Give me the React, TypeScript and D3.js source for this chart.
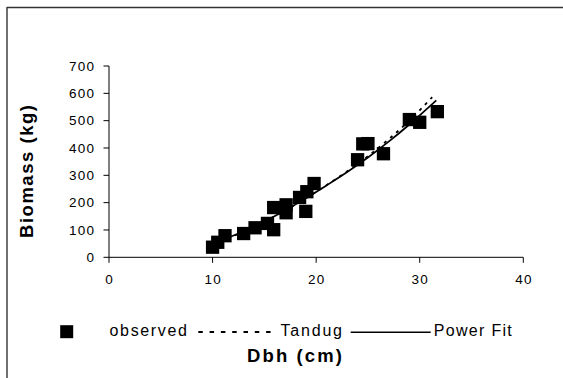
import React from "react";
import * as d3 from "d3";

const W = 563;
const H = 378;

// observed data (Dbh cm, Biomass kg)
const obsDbh = [10.0, 10.5, 11.2, 13.0, 14.1, 15.3, 15.9, 15.9, 17.1, 17.1, 18.4, 19.0, 19.1, 19.8, 24.0, 24.5, 25.0, 26.5, 29.0, 30.0, 31.7];
const obsBiomass = [37, 55, 79, 87, 108, 124, 101, 182, 192, 163, 219, 168, 240, 270, 357, 415, 416, 379, 504, 494, 533];

// Power fit curve
const fitDbh = [10, 11, 13, 15, 17, 19, 21, 23, 25, 27, 29, 31.6];
const fitBiomass = [50, 64, 95, 131, 171, 216, 263, 312, 365, 423, 486, 574];

// Tandug curve
const tanDbh = [10, 11, 13, 15, 17, 19, 21, 23, 25, 27, 29, 31.2];
const tanBiomass = [48, 62, 94, 130, 171, 216, 264, 315, 370, 432, 500, 586];

const xTicks = [0, 10, 20, 30, 40];
const yTicks = [0, 100, 200, 300, 400, 500, 600, 700];

const legendLabels = ["observed", "Tandug", "Power Fit"];

const FONT = "'Liberation Sans', Arial, sans-serif";

export default function App() {
  const x = d3.scaleLinear().domain([0, 40]).range([109, 523.3]);
  const y = d3.scaleLinear().domain([0, 700]).range([257.3, 66]);

  const line = d3
    .line<[number, number]>()
    .x((d) => x(d[0]))
    .y((d) => y(d[1]))
    .curve(d3.curveMonotoneX);

  const fitPts = fitDbh.map((v, i) => [v, fitBiomass[i]] as [number, number]);
  const tanPts = tanDbh.map((v, i) => [v, tanBiomass[i]] as [number, number]);
  const sq = 13.3;

  return (
    <svg
      width={W}
      height={H}
      style={{ position: "absolute", left: 0, top: 0, background: "#fff" }}
      fontFamily={FONT}
    >
      <rect x={0} y={0} width={W} height={H} fill="#fff" />
      {/* chart frame */}
      <line x1={7} y1={7.5} x2={W + 5} y2={7.5} stroke="#333" strokeWidth={1.4} />
      <line x1={7} y1={7} x2={7} y2={H + 5} stroke="#333" strokeWidth={1.4} />

      {/* axes */}
      <line x1={x(0)} y1={y(0)} x2={x(40)} y2={y(0)} stroke="#000" strokeWidth={1} />
      <line x1={x(0)} y1={y(0)} x2={x(0)} y2={y(700)} stroke="#000" strokeWidth={1} />
      {yTicks.map((t) => (
        <g key={"y" + t}>
          <line x1={x(0) - 5.5} y1={y(t)} x2={x(0)} y2={y(t)} stroke="#000" strokeWidth={1} />
          <text
            x={94}
            y={y(t) + 4.8}
            fontSize={13.5}
            textAnchor="end"
            letterSpacing={t === 0 ? 0 : 1.2}
            dx={t === 0 ? 0 : 1.2}
            fill="#000"
          >
            {t}
          </text>
        </g>
      ))}
      {xTicks.map((t) => (
        <g key={"x" + t}>
          <line x1={x(t)} y1={y(0)} x2={x(t)} y2={y(0) + 5.5} stroke="#000" strokeWidth={1} />
          <text
            x={x(t)}
            y={284.3}
            fontSize={13.5}
            textAnchor="middle"
            letterSpacing={t === 0 ? 0 : 1.2}
            dx={t === 0 ? 0 : 0.6}
            fill="#000"
          >
            {t}
          </text>
        </g>
      ))}

      {/* observed markers */}
      {obsDbh.map((v, i) => (
        <rect
          key={"o" + i}
          x={x(v) - sq / 2}
          y={y(obsBiomass[i]) - sq / 2}
          width={sq}
          height={sq}
          fill="#000"
        />
      ))}

      {/* Tandug dashed */}
      <path d={line(tanPts) || ""} fill="none" stroke="#000" strokeWidth={1.8} strokeDasharray="3,5" />
      {/* Power fit */}
      <path d={line(fitPts) || ""} fill="none" stroke="#000" strokeWidth={1.7} />

      {/* axis titles */}
      <text
        transform={`translate(32.5,171.5) rotate(-90)`}
        fontSize={18.5}
        fontWeight="bold"
        textAnchor="middle"
        textLength={133}
        lengthAdjust="spacing"
        fill="#000"
      >
        Biomass (kg)
      </text>
      <text
        x={294.5}
        y={361.5}
        fontSize={18.5}
        fontWeight="bold"
        textAnchor="middle"
        textLength={95}
        lengthAdjust="spacing"
        fill="#000"
      >
        Dbh (cm)
      </text>

      {/* legend */}
      <rect x={66.7 - 6.5} y={331.7 - 6.5} width={13} height={13} fill="#000" />
      <text x={109.5} y={336} fontSize={16} textLength={77.5} lengthAdjust="spacing" fill="#000">
        {legendLabels[0]}
      </text>
      <line x1={198.3} y1={332} x2={276.7} y2={332} stroke="#000" strokeWidth={2.2} strokeDasharray="4.5,6.8" />
      <text x={280.5} y={336} fontSize={16} textLength={61.5} lengthAdjust="spacing" fill="#000">
        {legendLabels[1]}
      </text>
      <line x1={350.7} y1={332.3} x2={430.7} y2={332.3} stroke="#000" strokeWidth={1.6} />
      <text x={433.8} y={336} fontSize={16} textLength={78} lengthAdjust="spacing" fill="#000">
        {legendLabels[2]}
      </text>
    </svg>
  );
}
